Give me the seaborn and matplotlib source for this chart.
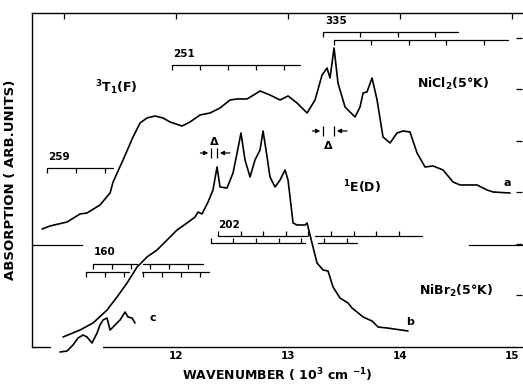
import numpy as np
import pandas as pd
import matplotlib
matplotlib.use("Agg")
import matplotlib.pyplot as plt
import seaborn as sns

sns.set_style("white", {"text.color": "black", "axes.labelcolor": "black",
                        "xtick.color": "black", "ytick.color": "black",
                        "axes.edgecolor": "black"})
plt.rcParams["font.family"] = ["DejaVu Sans"]
plt.rcParams["mathtext.default"] = "regular"

# ---------------------------------------------------------------------------
# data: wavenumber (10^3 cm-1) vs absorption (arb. units)
# ---------------------------------------------------------------------------
a_x = [10.804, 10.875, 11.027, 11.143, 11.205, 11.321, 11.411, 11.438, 11.527, 11.616,
       11.679, 11.741, 11.813, 11.884, 11.946, 12.054, 12.125, 12.214, 12.304, 12.393,
       12.482, 12.545, 12.634, 12.723, 12.750, 12.839, 12.929, 13.000, 13.080, 13.170,
       13.241, 13.304, 13.348, 13.375, 13.411, 13.446, 13.509, 13.598, 13.643, 13.670,
       13.705, 13.750, 13.795, 13.848, 13.911, 13.973, 14.027, 14.089, 14.152, 14.223,
       14.295, 14.384, 14.473, 14.536, 14.688, 14.777, 14.830, 14.982]
a_y = [2.291, 2.350, 2.427, 2.583, 2.602, 2.757, 2.990, 3.204, 3.631, 4.078,
       4.350, 4.447, 4.485, 4.447, 4.369, 4.291, 4.369, 4.505, 4.544, 4.641,
       4.796, 4.816, 4.816, 4.932, 4.971, 4.893, 4.796, 4.874, 4.738, 4.544,
       4.796, 5.282, 5.417, 5.223, 5.806, 5.126, 4.660, 4.466, 4.660, 4.932,
       4.951, 5.223, 4.796, 4.078, 3.961, 4.155, 4.194, 4.175, 3.767, 3.495,
       3.515, 3.437, 3.204, 3.146, 3.146, 3.049, 3.010, 2.990]

b_x = [10.991, 11.143, 11.259, 11.384, 11.473, 11.563, 11.652, 11.741, 11.830, 11.920,
       12.009, 12.098, 12.170, 12.196, 12.232, 12.286, 12.330, 12.366, 12.393, 12.455,
       12.509, 12.545, 12.580, 12.616, 12.661, 12.705, 12.750, 12.777, 12.813, 12.839,
       12.884, 12.929, 12.973, 13.000, 13.045, 13.080, 13.152, 13.170, 13.214, 13.259,
       13.313, 13.357, 13.402, 13.464, 13.536, 13.571, 13.616, 13.670, 13.750, 13.804,
       13.884, 14.071]
b_y = [0.194, 0.330, 0.466, 0.718, 0.971, 1.243, 1.553, 1.748, 1.883, 2.078,
       2.272, 2.408, 2.524, 2.621, 2.583, 2.816, 3.049, 3.495, 3.107, 3.087,
       3.379, 3.767, 4.155, 3.631, 3.301, 3.631, 3.825, 4.194, 3.689, 3.301,
       3.107, 3.243, 3.437, 3.243, 2.408, 2.369, 2.369, 2.408, 2.019, 1.631,
       1.495, 1.476, 1.165, 0.951, 0.854, 0.757, 0.680, 0.583, 0.505, 0.388,
       0.369, 0.311]

c_x = [10.964, 11.027, 11.080, 11.125, 11.170, 11.205, 11.250, 11.295, 11.321, 11.348,
       11.384, 11.411, 11.438, 11.473, 11.500, 11.545, 11.571, 11.607, 11.634]
c_y = [-0.097, -0.078, 0.039, 0.175, 0.233, 0.194, 0.078, 0.272, 0.427, 0.524,
       0.563, 0.330, 0.388, 0.466, 0.524, 0.680, 0.583, 0.563, 0.466]

# progression combs: (first tick, spacing, n ticks, level, segments, ticks up?)
combs = {
    "259":   (10.852, 0.259, 3, 3.476, [(10.852, 11.438)], False),
    "251":   (11.964, 0.251, 5, 5.476, [(11.964, 13.110)], False),
    "335u":  (13.308, 0.335, 4, 6.117, [(13.308, 14.518)], False),
    "335l":  (13.406, 0.335, 5, 5.961, [(13.406, 14.964)], False),
    "202u":  (12.374, 0.202, 9, 2.155, [(12.374, 13.170), (13.241, 14.196)], True),
    "202l":  (12.311, 0.202, 7, 2.019, [(12.311, 13.152), (13.268, 13.616)], True),
    "160u":  (11.259, 0.170, 6, 1.612, [(11.259, 11.652), (11.705, 12.241)], False),
    "160l":  (11.196, 0.170, 7, 1.456, [(11.196, 11.580), (11.696, 12.295)], False),
}
comb_labels = [("259", 10.86, 3.60), ("251", 11.97, 5.60), ("335", 13.33, 6.24),
               ("202", 12.38, 2.28), ("160", 11.27, 1.74)]

# Delta markers: (left bar, right bar, level, text x, text y)
deltas = [(12.313, 12.366, 3.767, 12.34, 3.98),
          (13.313, 13.411, 4.194, 13.36, 3.90)]

XMIN, XMAX, YMIN, YMAX = 10.714, 15.089, 0.0, 6.485

fig = plt.figure(figsize=(5.23, 3.84), dpi=100)
ax = fig.add_axes([32 / 523, 37 / 384, 490 / 523, 334 / 384])

for xs, ys, clip in [(a_x, a_y, True), (b_x, b_y, True), (c_x, c_y, False)]:
    d = pd.DataFrame({"x": xs, "y": ys})
    sns.lineplot(data=d, x="x", y="y", ax=ax, color="black", lw=1.2,
                 sort=False, estimator=None, clip_on=clip)

# combs
tk = 0.09
for key, (x0, dx, n, lev, segs, up) in combs.items():
    for s0, s1 in segs:
        ax.plot([s0, s1], [lev, lev], color="black", lw=0.9)
    ticks = x0 + dx * np.arange(n)
    ax.vlines(ticks, lev, lev + (tk if up else -tk), color="black", lw=0.9)
for txt, tx, ty in comb_labels:
    ax.text(tx, ty, txt, fontsize=7.5, fontweight="bold", ha="left", va="bottom")

# Delta markers
for xl, xr, lev, tx, ty in deltas:
    ax.annotate("", xy=(xl, lev), xytext=(xl - 0.12, lev),
                arrowprops=dict(arrowstyle="-|>", color="black", lw=0.9, mutation_scale=6))
    ax.annotate("", xy=(xr, lev), xytext=(xr + 0.14, lev),
                arrowprops=dict(arrowstyle="-|>", color="black", lw=0.9, mutation_scale=6))
    ax.vlines([xl, xr], lev - 0.09, lev + 0.09, color="black", lw=0.9)
    ax.text(tx, ty, "Δ", fontsize=8, fontweight="bold", ha="center", va="center")

# baseline markers
ax.plot([XMIN, 11.161], [1.981, 1.981], color="black", lw=0.9, clip_on=False)
ax.plot([14.616, XMAX], [1.981, 1.981], color="black", lw=0.9, clip_on=False)

# labels in the plot
kw = dict(fontsize=9, fontweight="bold", ha="center", va="center")
ax.text(11.47, 5.03, r"$^3$T$_1$(F)", **kw)
ax.text(14.47, 5.10, r"NiCl$_2$(5°K)", **kw)
ax.text(13.66, 3.10, r"$^1$E(D)", **kw)
ax.text(14.50, 1.08, r"NiBr$_2$(5°K)", **kw)
ax.text(14.96, 3.18, "a", fontsize=8, fontweight="bold", ha="center", va="center")
ax.text(14.09, 0.49, "b", fontsize=8, fontweight="bold", ha="center", va="center")
ax.text(11.79, 0.56, "c", fontsize=8, fontweight="bold", ha="center", va="center")

ax.set_xlim(XMIN, XMAX)
ax.set_ylim(YMIN, YMAX)
ax.set_xticks([11, 12, 13, 14, 15])
ax.set_xticklabels(["", "12", "13", "14", "15"])
ax.set_yticks([1, 2, 3, 4, 5, 6])
ax.set_yticklabels([])
ax.tick_params(direction="in", length=4, width=0.9, top=True, right=True,
               labelsize=7.5, pad=3, colors="black")
ax.xaxis.get_major_ticks()[0].tick1line.set_visible(False)
for t in ax.get_xticklabels():
    t.set_fontweight("bold")

for s in ["left", "top"]:
    ax.spines[s].set_linewidth(1.0)
    ax.spines[s].set_color("black")
ax.spines["right"].set_visible(False)
ax.spines["bottom"].set_visible(False)
# bottom frame line is broken under curve c in the original
ax.plot([XMIN, 10.875], [0, 0], color="black", lw=1.0, clip_on=False)
ax.plot([11.348, XMAX], [0, 0], color="black", lw=1.0, clip_on=False)

ax.set_xlabel(r"WAVENUMBER ( 10$^3$ cm $^{-1}$)", fontsize=9, fontweight="bold",
              labelpad=4, color="black")
ax.set_ylabel("ABSORPTION ( ARB.UNITS)", fontsize=9.5, fontweight="bold",
              labelpad=8, color="black")

fig.savefig("out.png", dpi=100)
